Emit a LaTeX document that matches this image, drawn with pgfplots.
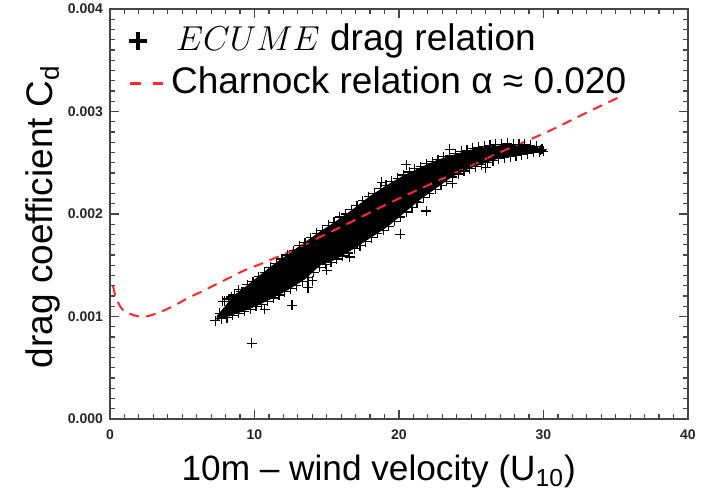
\documentclass[border=0pt]{standalone}
\usepackage{fontspec}
\setmainfont{Liberation Sans}
\usepackage{pgfplots}
\pgfplotsset{compat=1.18}
\definecolor{charred}{RGB}{255,40,40}
\definecolor{framegray}{RGB}{70,70,70}

\begin{document}
\begin{tikzpicture}
\path[use as bounding box] (0,0) rectangle (351.5pt,245pt);
\begin{axis}[
  at={(55pt,35.5pt)}, anchor=south west,
  scale only axis, width=289pt, height=205pt,
  xmin=0, xmax=40, ymin=0, ymax=0.004,
  xtick={0,10,20,30,40}, ytick={0,0.001,0.002,0.003,0.004},
  minor x tick num=9, minor y tick num=9,
  major tick length=4.5pt, minor tick length=2.5pt,
  axis line style={framegray, line width=0.7pt},
  every tick/.style={framegray, line width=0.6pt},
  scaled y ticks=false,
  yticklabel style={/pgf/number format/.cd, fixed, fixed zerofill, precision=3},
  /pgf/number format/assume math mode=true,
  ticklabel style={font=\bfseries\fontsize{7}{8}\selectfont, text=black!85},
  xticklabel style={yshift=-2pt},
  xlabel={10m -- wind velocity (U\textsubscript{10})},
  ylabel={drag coefficient C\textsubscript{d}},
  every axis x label/.style={at={(axis description cs:0.465,-0.151)}, anchor=base,
    font=\fontsize{17.6}{21}\selectfont},
  every axis y label/.style={at={(axis description cs:-0.1003,0.493)}, rotate=90, anchor=base,
    font=\fontsize{18.5}{22}\selectfont},
  legend style={at={(axis description cs:0,1)}, anchor=north west, xshift=8.5pt, yshift=-6pt,
    draw=none, fill=none, inner sep=0pt, row sep=2pt,
    font=\fontsize{18.5}{22}\selectfont,
    nodes={text height=13.5pt, text depth=4pt, inner sep=1pt}},
  legend cell align=left,
]
% dense core of the cloud
\addplot[fill=black, draw=black, line width=0.5pt, forget plot] coordinates {
(7.4,0.00100) (8.0,0.00110) (8.5,0.00119) (9.6,0.00131) (11.2,0.00149) (13.5,0.00172)
(14.5,0.00182) (15.6,0.00192) (16.8,0.00204) (18.0,0.00217) (19.2,0.00228) (20.3,0.00237)
(21.5,0.00245) (22.6,0.00252) (23.7,0.00257) (24.9,0.00262) (26.1,0.00265) (27.3,0.00267)
(28.4,0.00267) (29.5,0.00265) (30.0,0.00262)
(30.0,0.00261) (29.0,0.00260) (28.4,0.00259) (27.2,0.00256) (26.1,0.00251) (24.9,0.00245)
(23.7,0.00237) (22.6,0.00226) (21.5,0.00215) (20.3,0.00201) (19.2,0.00188) (18.0,0.00177)
(16.8,0.00166) (15.6,0.00156) (14.5,0.00150) (13.5,0.00137) (12.4,0.00127) (11.2,0.00118)
(10.2,0.00111) (9.3,0.00106) (8.3,0.00101) (7.4,0.00097)};
% ECUME points (edges and outliers)
\addplot[only marks, mark=+, mark size=2.5pt, mark options={line width=0.6pt}, black,
  legend image code/.code={\path[draw=none, fill=none] (0pt,-1pt) rectangle (20pt,1pt);
    \draw[black, line width=1.7pt, solid] (0pt,0pt) -- (9pt,0pt) (4.5pt,-4.5pt) -- (4.5pt,4.5pt);}]
coordinates {
(7.6,0.00103) (7.9,0.00115) (8.2,0.00117) (8.6,0.00121) (8.9,0.00126) (9.2,0.00124)
(9.5,0.00131) (9.9,0.00134) (10.3,0.00139) (10.7,0.00143) (11.1,0.00148) (11.5,0.00152)
(11.9,0.00156) (12.3,0.00160) (12.7,0.00164) (13.1,0.00169) (13.5,0.00172) (13.9,0.00177)
(14.3,0.00181) (14.7,0.00184) (15.1,0.00189) (15.5,0.00192) (15.9,0.00197) (16.3,0.00200)
(16.7,0.00204) (17.1,0.00208) (17.5,0.00213) (17.9,0.00217) (18.3,0.00220) (18.7,0.00225)
(19.1,0.00228) (19.5,0.00232) (19.9,0.00235) (20.3,0.00238) (20.7,0.00241) (21.1,0.00244)
(21.5,0.00246) (21.9,0.00249) (22.3,0.00251) (22.7,0.00253) (23.1,0.00256) (23.5,0.00257)
(23.9,0.00259) (24.3,0.00261) (24.7,0.00262) (25.1,0.00264) (25.5,0.00265) (25.9,0.00266)
(26.3,0.00267) (26.7,0.00268) (27.1,0.00268) (27.5,0.00269) (27.9,0.00268) (28.3,0.00268)
(28.7,0.00268) (29.1,0.00267) (29.5,0.00266) (29.9,0.00263)
(7.3,0.00096) (7.7,0.00098) (8.1,0.00099) (8.5,0.00101) (8.9,0.00103) (9.3,0.00105)
(9.7,0.00107) (10.1,0.00110) (10.5,0.00112) (10.9,0.00115) (11.3,0.00118) (11.7,0.00121)
(12.1,0.00124) (12.5,0.00127) (12.9,0.00130) (13.3,0.00134) (13.7,0.00138) (14.1,0.00143)
(14.5,0.00148) (14.9,0.00151) (15.3,0.00153) (15.7,0.00156) (16.1,0.00159) (16.5,0.00162)
(16.9,0.00166) (17.3,0.00169) (17.7,0.00173) (18.1,0.00177) (18.5,0.00181) (18.9,0.00184)
(19.3,0.00188) (19.7,0.00193) (20.1,0.00197) (20.5,0.00202) (20.9,0.00206) (21.3,0.00211)
(21.7,0.00216) (22.1,0.00220) (22.5,0.00224) (22.9,0.00228) (23.3,0.00232) (23.7,0.00236)
(24.1,0.00239) (24.5,0.00242) (24.9,0.00244) (25.3,0.00246) (25.7,0.00248) (26.1,0.00250)
(26.5,0.00252) (26.9,0.00254) (27.3,0.00255) (27.7,0.00256) (28.1,0.00257) (28.5,0.00258)
(28.9,0.00259) (29.3,0.00260) (29.7,0.00260) (30.0,0.00261)
(9.8,0.00074) (12.6,0.00111) (13.7,0.00128) (10.7,0.00107) (7.8,0.00115) (9.1,0.00124)
(8.4,0.00119) (20.1,0.00180) (21.9,0.00203) (20.5,0.00248) (18.8,0.00231) (23.5,0.00263)
(23.7,0.00230) (21.2,0.00212) (19.2,0.00194) (17.1,0.00172) (16.6,0.00158) (26.0,0.00245)
(29.8,0.00262) (16.0,0.00168) (15.0,0.00145) (14.0,0.00135)};
\addlegendentry{\hspace{2.5pt}$ECUME$ drag relation}
% Charnock relation
\addplot[charred, line width=1pt, dash pattern=on 5pt off 3.5pt, smooth,
  legend image code/.code={\path[draw=none, fill=none] (0pt,-1pt) rectangle (20pt,1pt);
    \draw[charred, line width=1.5pt, dash pattern=on 5.5pt off 6pt] (0.5pt,0pt) -- (17pt,0pt);}]
coordinates {
(0.2,0.00130) (0.4,0.00119) (0.7,0.00110) (1.0,0.00105) (1.5,0.00102) (2.0,0.00100)
(2.5,0.00100) (3.0,0.00102) (3.6,0.00105) (4.5,0.00111) (5.4,0.00118) (6.3,0.00124)
(7.3,0.00131) (8.3,0.00138) (9.3,0.00145) (10.4,0.00151) (11.4,0.00157) (12.4,0.00163)
(13.3,0.00169) (14.6,0.00178) (16.8,0.00193) (18.5,0.00205) (20.3,0.00217) (22.0,0.00228)
(23.75,0.00239) (25.3,0.00249) (26.8,0.00259) (28.8,0.00271) (30.7,0.00283) (33.0,0.00299)
(35.4,0.00315)};
\addlegendentry{Charnock relation α ≈ 0.020}
\end{axis}
\end{tikzpicture}
\end{document}
